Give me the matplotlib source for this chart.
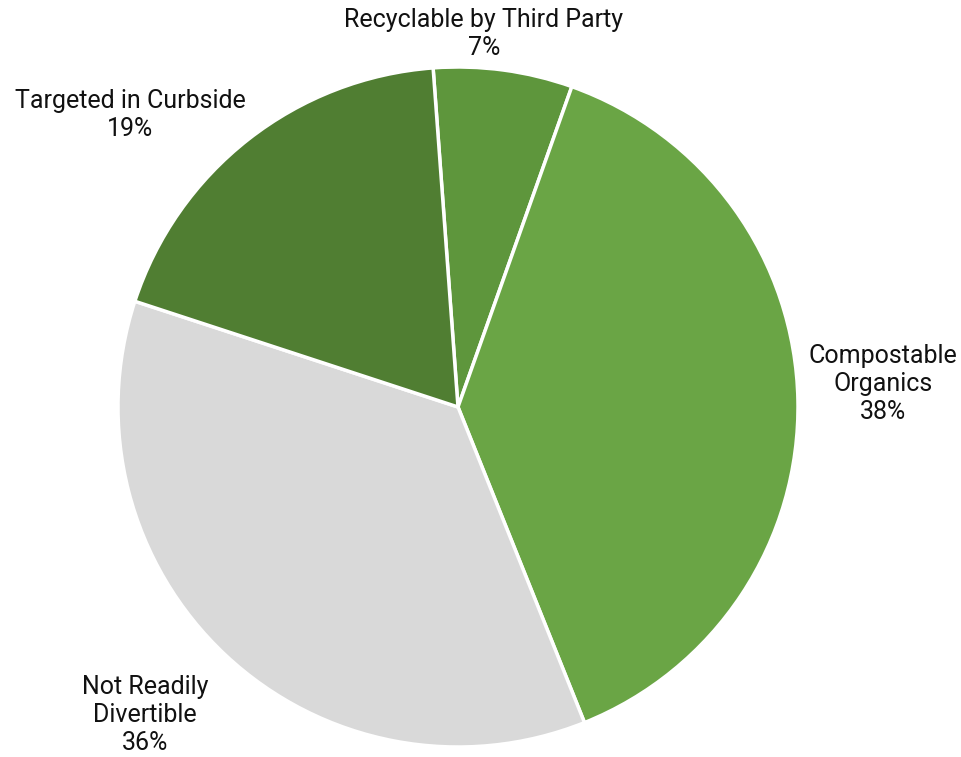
import matplotlib.pyplot as plt

plt.rcParams['font.family'] = ['Roboto', 'DejaVu Sans']

# slices in clockwise order starting just left of top
categories = ['Recyclable by Third Party', 'Compostable\nOrganics',
              'Not Readily\nDivertible', 'Targeted in Curbside']
values = [6.6, 38.5, 36.1, 18.8]
pct_labels = ['7%', '38%', '36%', '19%']
colors = ['#5E963C', '#6AA545', '#D9D9D9', '#507E32']

# label anchor positions in pie units (radius = 1)
label_pos = [(0.076, 1.097), (1.25, 0.068), (-0.92, -0.906), (-0.965, 0.859)]

W, H = 962, 757
fig = plt.figure(figsize=(W / 100, H / 100), dpi=100)
cx, cy, r = 458, 407, 340
ax = fig.add_axes([(cx - r) / W, (H - cy - r) / H, 2 * r / W, 2 * r / H])

ax.pie(values, colors=colors, startangle=94.2, counterclock=False,
       radius=1, wedgeprops=dict(edgecolor='white', linewidth=2.5))

for cat, pct, (x, y) in zip(categories, pct_labels, label_pos):
    ax.text(x, y, cat + '\n' + pct, ha='center', va='center', fontsize=18,
            color='#111111', linespacing=1.2, clip_on=False)

ax.set_xlim(-1, 1)
ax.set_ylim(-1, 1)
ax.set_aspect('equal')
ax.axis('off')

fig.savefig('out.png', dpi=100)
